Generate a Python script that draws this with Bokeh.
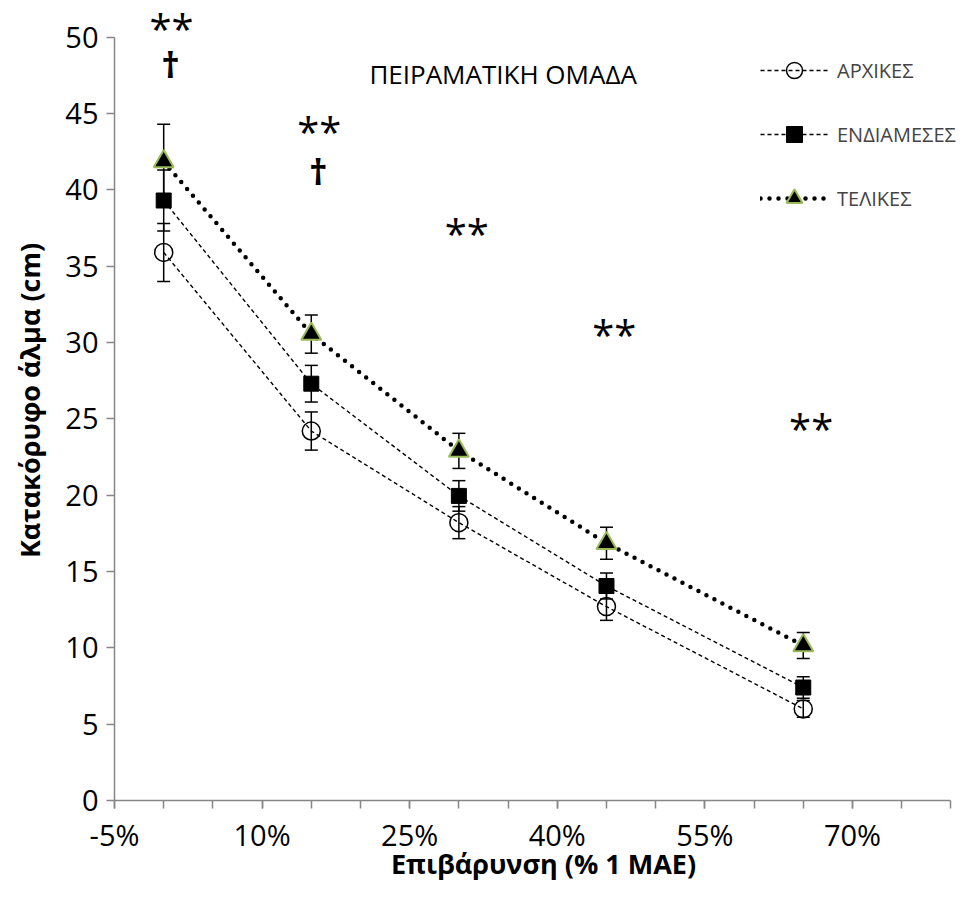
from bokeh.plotting import figure
from bokeh.models import (ColumnDataSource, Whisker, TeeHead, Legend, LegendItem,
                          FixedTicker, PrintfTickFormatter, Label, Range1d)
from bokeh.embed import file_html
from bokeh.resources import INLINE

# ---- data ----
load_pct = [0, 15, 30, 45, 65]
initial = [35.9, 24.2, 18.2, 12.7, 6.0]
initial_err = [1.9, 1.25, 1.05, 0.9, 0.55]
middle = [39.3, 27.3, 19.95, 14.05, 7.4]
middle_err = [2.0, 1.2, 1.0, 0.85, 0.7]
final = [41.85, 30.55, 22.9, 16.85, 10.15]
final_err = [2.45, 1.25, 1.15, 1.05, 0.85]

series_names = ["ΑΡΧΙΚΕΣ", "ΕΝΔΙΑΜΕΣΕΣ", "ΤΕΛΙΚΕΣ"]
x_ticks = [-5, 10, 25, 40, 55, 70]
x_minor = list(range(-5, 81, 5))
y_ticks = [0, 5, 10, 15, 20, 25, 30, 35, 40, 45, 50]

sig_y = [51.0, 44.3, 37.6, 31.0, 24.8]
sig_text = ["**", "**", "**", "**", "**"]
dagger_x = [0, 15]
dagger_y = [48.2, 41.2]

title_text = "ΠΕΙΡΑΜΑΤΙΚΗ ΟΜΑΔΑ"
x_title = "Επιβάρυνση (% 1 ΜΑΕ)"
y_title = "Κατακόρυφο άλμα (cm)"

FONT = "Open Sans"
AXIS_GRAY = "#868686"

p = figure(width=973, height=894, output_backend="svg", toolbar_location=None,
           x_range=Range1d(-5, 82.2), y_range=Range1d(0, 52.4),
           min_border_left=114, min_border_right=1, min_border_top=0,
           min_border_bottom=94)
p.frame_width = 858
p.frame_height = 800
p.outline_line_color = None
p.xgrid.visible = False
p.ygrid.visible = False

for ax in (p.xaxis[0], p.yaxis[0]):
    ax.axis_line_color = AXIS_GRAY
    ax.axis_line_width = 1.5
    ax.major_tick_line_color = AXIS_GRAY
    ax.major_tick_line_width = 1.5
    ax.minor_tick_line_color = AXIS_GRAY
    ax.minor_tick_line_width = 1.5
    ax.major_tick_in = 0
    ax.minor_tick_in = 0
    ax.major_label_text_font = FONT
    ax.major_label_text_font_size = "29px"
    ax.major_label_text_color = "black"
    ax.axis_label_text_font = FONT
    ax.axis_label_text_font_size = "27px"
    ax.axis_label_text_font_style = "bold"
    ax.axis_label_text_color = "black"

p.xaxis.bounds = (-5, 80)
p.xaxis.ticker = FixedTicker(ticks=x_ticks, minor_ticks=x_minor)
p.xaxis.formatter = PrintfTickFormatter(format="%d%%")
p.xaxis.major_tick_out = 8
p.xaxis.minor_tick_out = 8
p.xaxis.major_label_standoff = 6
p.xaxis.axis_label = x_title
p.xaxis.axis_label_standoff = -12

p.yaxis.bounds = (0, 50)
p.yaxis.ticker = FixedTicker(ticks=y_ticks, minor_ticks=[])
p.yaxis.major_tick_out = 8
p.yaxis.major_label_standoff = 8
p.yaxis.axis_label = y_title
p.yaxis.axis_label_standoff = 14

src = ColumnDataSource(dict(
    x=load_pct,
    a=initial, a_lo=[v - e for v, e in zip(initial, initial_err)], a_hi=[v + e for v, e in zip(initial, initial_err)],
    b=middle, b_lo=[v - e for v, e in zip(middle, middle_err)], b_hi=[v + e for v, e in zip(middle, middle_err)],
    c=final, c_lo=[v - e for v, e in zip(final, final_err)], c_hi=[v + e for v, e in zip(final, final_err)],
))

# lines
la = p.line("x", "a", source=src, line_color="black", line_width=1.4, line_dash="4 3")
lb = p.line("x", "b", source=src, line_color="black", line_width=1.4, line_dash="4 3")
lc = p.line("x", "c", source=src, line_color="black", line_width=4.5, line_dash="0 9",
            line_cap="round")

# error bars
for lo, hi in (("a_lo", "a_hi"), ("b_lo", "b_hi"), ("c_lo", "c_hi")):
    w = Whisker(source=src, base="x", lower=lo, upper=hi, dimension="height",
                line_color="black", line_width=1.5,
                lower_head=TeeHead(size=13, line_color="black", line_width=1.5),
                upper_head=TeeHead(size=13, line_color="black", line_width=1.5))
    p.add_layout(w)

# markers
ma = p.scatter("x", "a", source=src, marker="circle", size=18, fill_alpha=0,
               line_color="black", line_width=1.5)
mb = p.scatter("x", "b", source=src, marker="square", size=15, fill_color="black",
               line_color="black", line_width=1)
mc = p.scatter("x", "c", source=src, marker="triangle", size=20, fill_color="black",
               line_color="#9BBB59", line_width=2)

legend = Legend(items=[
    LegendItem(label=series_names[0], renderers=[la, ma]),
    LegendItem(label=series_names[1], renderers=[lb, mb]),
    LegendItem(label=series_names[2], renderers=[lc, mc]),
], location=(646, 582), padding=0, margin=0, border_line_alpha=0,
    background_fill_alpha=0, glyph_width=68, glyph_height=40, label_height=40,
    label_standoff=9, spacing=24, label_text_font=FONT, label_text_font_size="20px")
p.add_layout(legend)

# title inside the plot
p.add_layout(Label(x=34.5, y=47.6, text=title_text, text_font=FONT, text_font_size="26px",
                   text_align="center", text_baseline="middle", text_color="black"))

# significance marks
for xv, yv, t in zip(load_pct, sig_y, sig_text):
    p.add_layout(Label(x=xv + 0.8, y=yv - 0.45, text=t, text_font=FONT, text_font_size="40px",
                       text_align="center", text_baseline="middle", text_color="black"))
for xv, yv in zip(dagger_x, dagger_y):
    p.add_layout(Label(x=xv + 0.7, y=yv, text="†", text_font=FONT, text_font_size="36px",
                       text_font_style="bold",
                       text_align="center", text_baseline="middle", text_color="black"))

open("out.html", "w").write(file_html(p, INLINE))
